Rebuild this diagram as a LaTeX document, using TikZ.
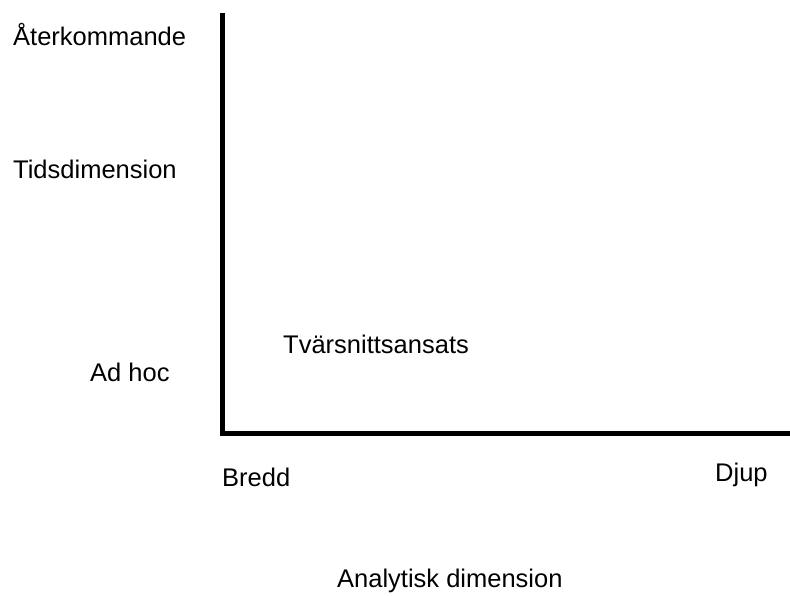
\documentclass[tikz,border=0pt]{standalone}
\usepackage{fontspec}
\setmainfont{Liberation Sans}
\begin{document}
\begin{tikzpicture}[x=1pt,y=-1pt,
  lbl/.style={anchor=base west, inner sep=0pt, font=\fontsize{25.5}{30}\selectfont},
  axis/.style={line width=5pt, line join=miter, black}]
\useasboundingbox (0,0) rectangle (790,595);
\coordinate (top) at (222,13);
\coordinate (origin) at (222,433.5);
\coordinate (right) at (790,433.5);
\draw[axis] (top) -- (origin) -- (right);
\node[lbl] (ater) at (13,45) {Återkommande};
\node[lbl] (tids) at (13,178) {Tidsdimension};
\node[lbl] (adhoc) at (90,381) {Ad hoc};
\node[lbl] (tvar) at (283,353) {Tvärsnittsansats};
\node[lbl] (bredd) at (222,486) {Bredd};
\node[lbl] (djup) at (715,481) {Djup};
\node[lbl] (anal) at (337,587) {Analytisk dimension};
\end{tikzpicture}
\end{document}
